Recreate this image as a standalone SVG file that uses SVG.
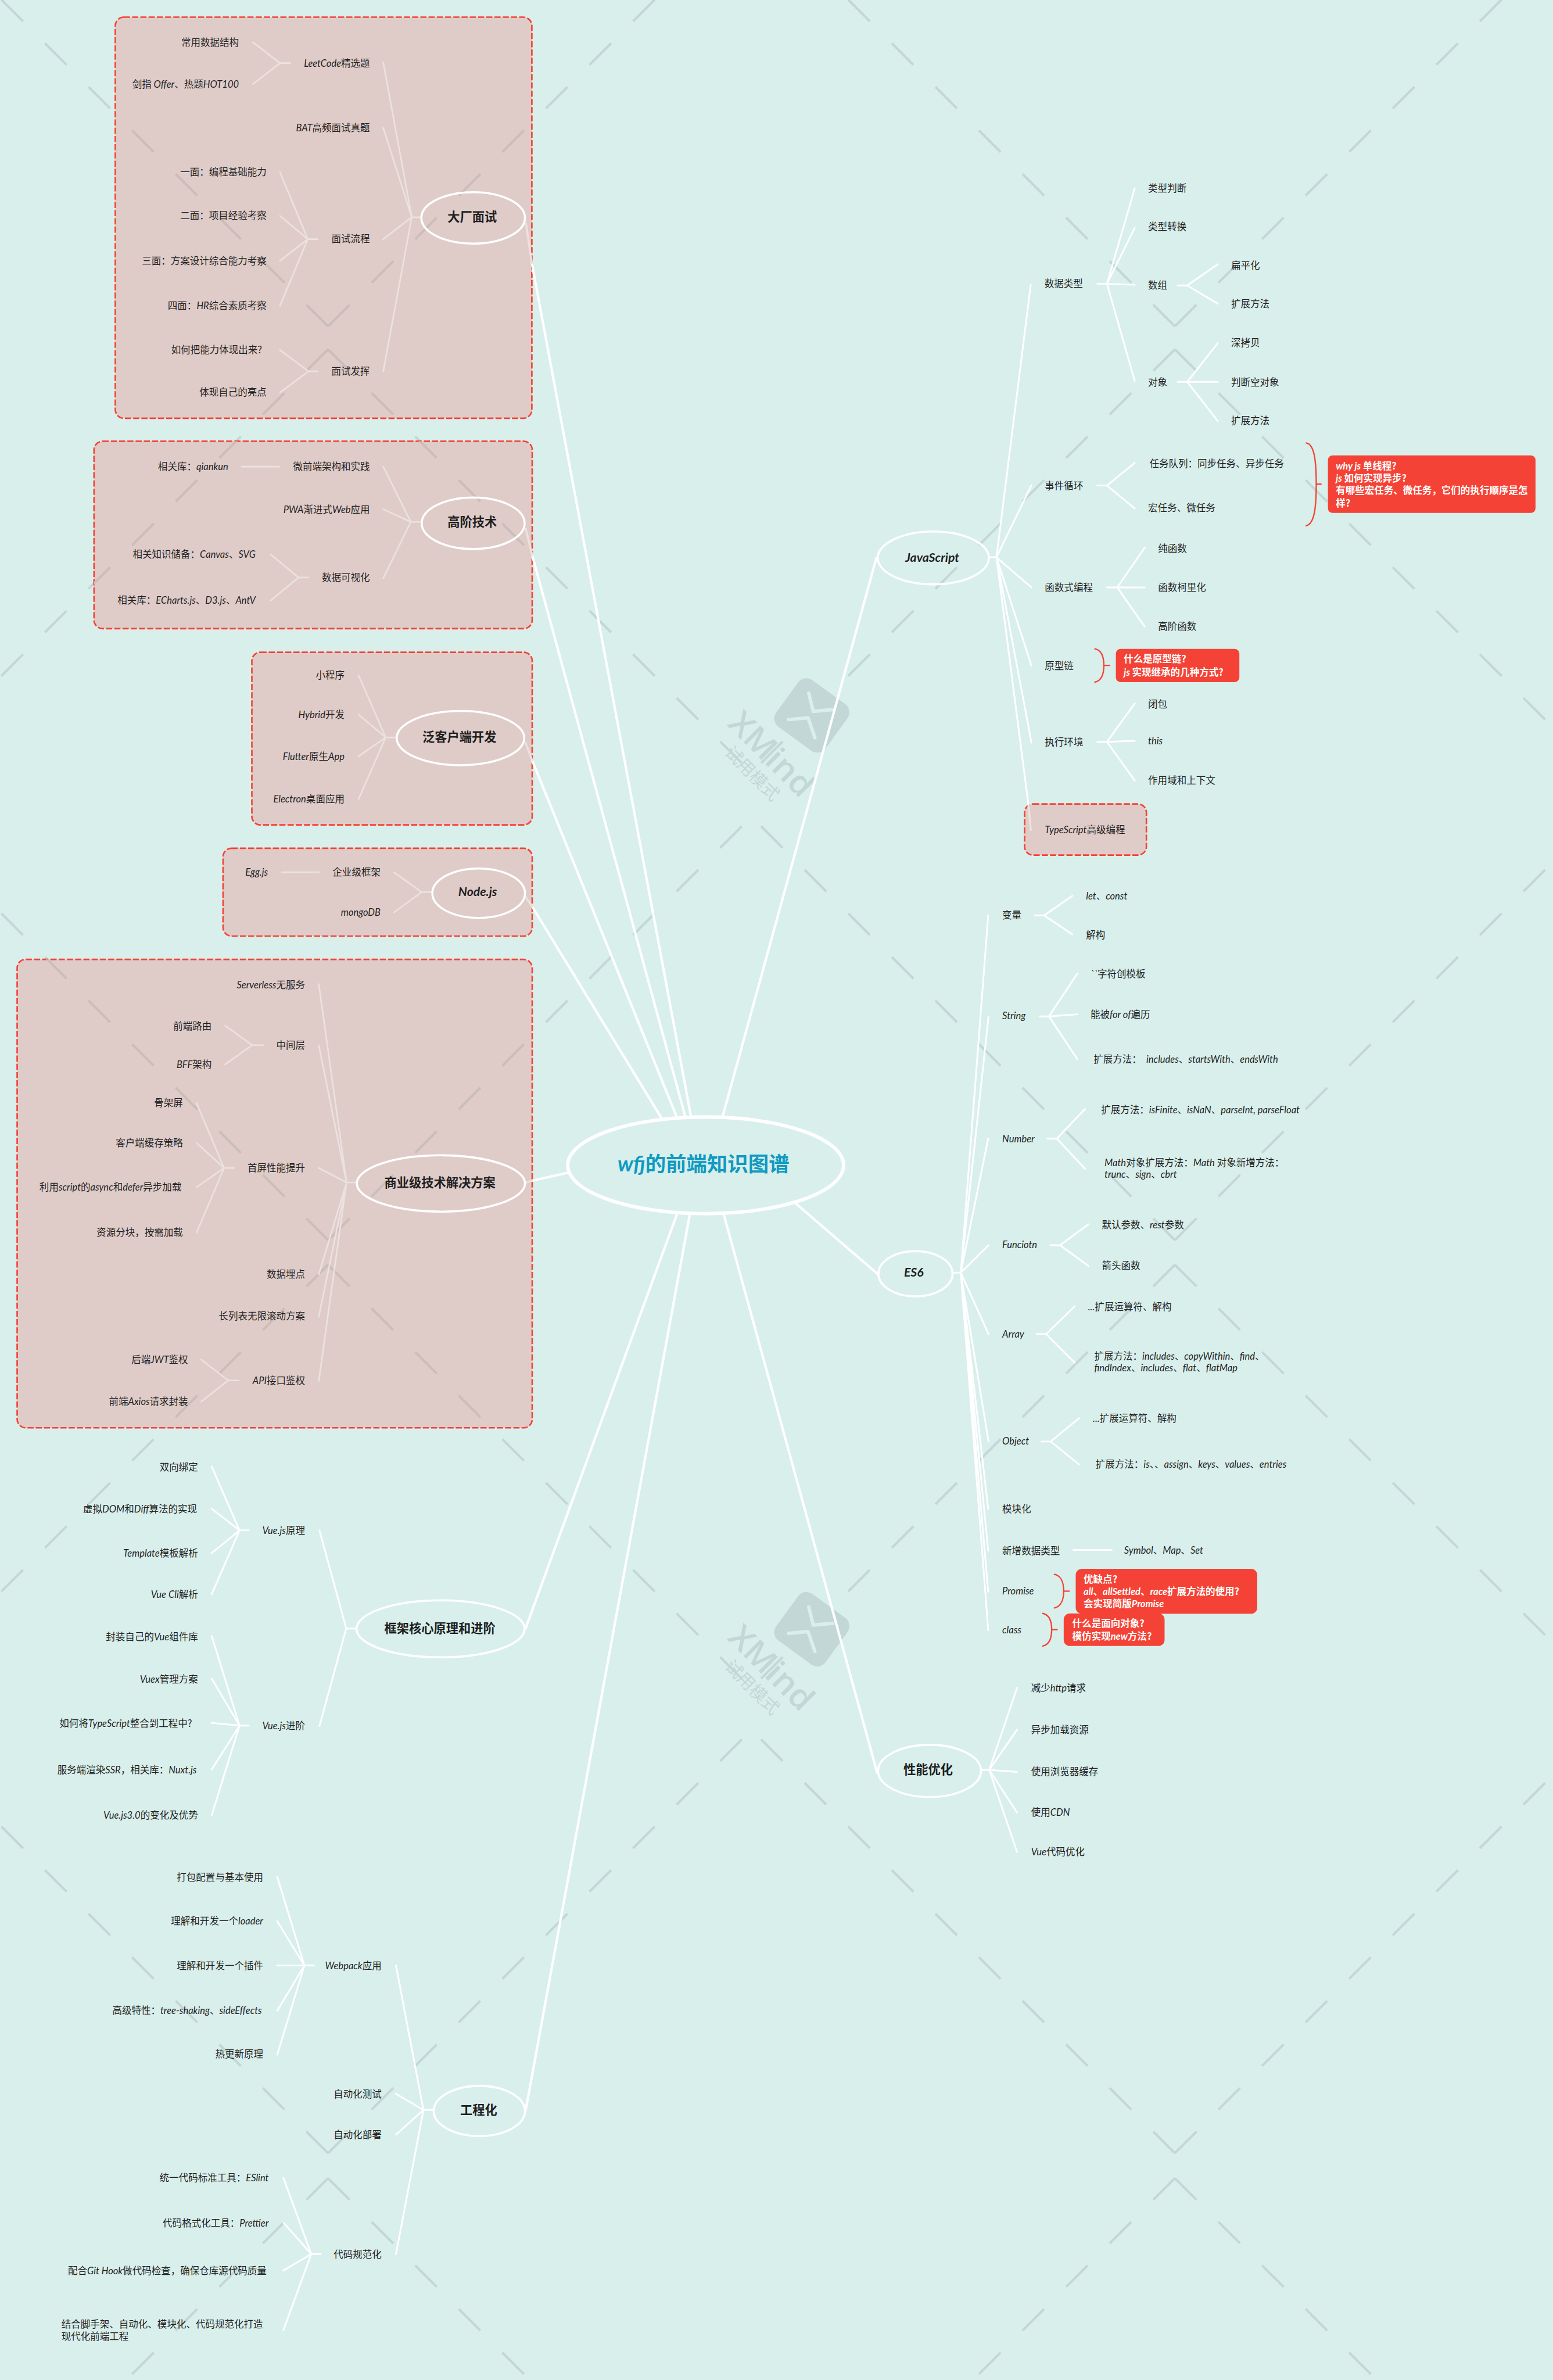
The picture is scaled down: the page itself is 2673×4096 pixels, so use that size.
<svg xmlns="http://www.w3.org/2000/svg" width="2673" height="4096" viewBox="0 0 2673 4096">
<style>
text{font-family:"Noto Sans CJK SC","Noto Sans",sans-serif;font-size:28px;fill:#1f1f1f}
.e{text-anchor:end}
.l{font-family:Lato,"Noto Sans",sans-serif;font-style:italic;font-size:28px}
.m{font-size:36px;font-weight:700;text-anchor:middle}
.m .l{font-size:36px}
.r{font-weight:700;fill:#fff}
.c{font-size:60px;font-weight:700;fill:#119ac1}
.c .l{font-size:62px}
.b{fill:#dfccc9;stroke:#f44336;stroke-width:4.5;stroke-dasharray:18 6}
.o{fill:none;stroke:#fff;stroke-width:6}
.rb{fill:#f44336}
.br{fill:none;stroke:#f44336;stroke-width:4;stroke-linecap:round}
.wm{fill:none;stroke-width:7;stroke-dasharray:89 90.6}
.wo{stroke:#c3d8d6}
.wi{stroke:#cbbdba}
.lg{fill:#c3d8d6}
.lg text{fill:#c3d8d6}
.w{stroke:#fff}
.f{stroke:#ebe2e0}
</style>
<defs>
<g id="wm-x">
<path d="M956 951l-1234-1234M956 951l1234-1234M956 1018l-1234 1234M956 1018l1234 1234"/>
<path d="M3424 951l-1234-1234M3424 951l1234-1234M3424 1018l-1234 1234M3424 1018l1234 1234"/>
<path d="M956 3614l-1234-1234M956 3614l1234-1234M956 3686l-1234 1234M956 3686l1234 1234"/>
<path d="M3424 3614l-1234-1234M3424 3614l1234-1234M3424 3686l-1234 1234M3424 3686l1234 1234"/>
<path d="M956 6275l-1234-1234M956 6275l1234-1234M956 6348l-1234 1234M956 6348l1234 1234"/>
<path d="M3424 6275l-1234-1234M3424 6275l1234-1234M3424 6348l-1234 1234M3424 6348l1234 1234"/>
</g>
<clipPath id="box-clip">
<rect x="336" y="50" width="1214" height="1169" rx="25"/>
<rect x="274" y="1286" width="1277" height="546" rx="25"/>
<rect x="734" y="1901" width="817" height="503" rx="25"/>
<rect x="650" y="2472" width="901" height="256" rx="25"/>
<rect x="50" y="2796" width="1501" height="1365" rx="25"/>
<rect x="2986" y="2343" width="355" height="149" rx="25"/>
</clipPath>
<g id="logo" class="lg">
<rect x="-89" y="-84" width="178" height="168" rx="30" transform="translate(2366 2085) rotate(36)"/>
<path d="M2357 2020L2370 2073L2427 2068M2298 2097L2355 2092L2375 2150" fill="none" stroke="#d9efec" stroke-width="10" stroke-linecap="round" stroke-linejoin="round"/>
<text transform="translate(2117 2113) rotate(45)" textLength="305" lengthAdjust="spacingAndGlyphs" style="font-family:'Open Sans',sans-serif;font-size:96px;font-weight:600">XMind</text>
<text transform="translate(2109 2196) rotate(45)" style="font-size:50px;font-weight:400">试用模式</text>
</g>
</defs>
<g transform="scale(.59059 .59054)">
<rect id="background" width="4526" height="6936" fill="#d9efec"/>
<g id="watermark">
<use href="#wm-x" class="wm wo"/>
<use href="#logo"/>
<use href="#logo" transform="translate(0 2663)"/>
</g>
<g id="boundaries">
<rect class="b" x="336" y="50" width="1214" height="1169" rx="25"/>
<rect class="b" x="274" y="1286" width="1277" height="546" rx="25"/>
<rect class="b" x="734" y="1901" width="817" height="503" rx="25"/>
<rect class="b" x="650" y="2472" width="901" height="256" rx="25"/>
<rect class="b" x="50" y="2796" width="1501" height="1365" rx="25"/>
<rect class="b" x="2986" y="2343" width="355" height="149" rx="25"/>
</g>
<use href="#wm-x" class="wm wi" clip-path="url(#box-clip)"/>
<g id="connectors" fill="none" stroke-linecap="round" stroke-linejoin="round">
<path class="w" stroke-width="7" d="M2013 3250L1550 767M1996 3250L1551 1618M1971 3252L1551 2216M1927 3257L1551 2642M1653 3418L1551 3441M1972 3541L1532 4745M2010 3541L1532 6150M2107 3250L2554 1626M2110 3542L2556 5165M2320 3508L2557 3712"/>
<path class="f" stroke-width="6" d="M1550 767L1533 652M1551 1618L1532 1540M1551 2216L1532 2165M1551 2642L1532 2614M1551 3441L1533 3446M2997 2344L3004 2419"/>
<path class="f" stroke-width="4.5" d="M1225 633H1200L1117 182M1200 633L1117 373M1200 633L1117 697M1200 633L1117 1082M846 184H816L737 123M816 184L737 245M926 697H897L816 502M897 697L816 629M897 697L816 760M897 697L816 891M926 1082H899L816 1020M899 1082L816 1144M1225 1521H1197L1117 1360M1197 1521L1117 1484M1197 1521L1117 1685M704 1360H814M898 1683H870L789 1616M870 1683L789 1750M1153 2149H1124L1045 1968M1124 2149L1045 2083M1124 2149L1045 2204M1124 2149L1045 2329M1257 2600H1229L1148 2542M1229 2600L1148 2659M822 2542H929M1037 3446H1010L929 2868M1010 3446L929 3046M1010 3446L929 3404M1010 3446L929 3714M1010 3446L929 3837M1010 3446L929 4025M767 3046H735L656 2989M735 3046L656 3102M682 3404H653L573 3215M653 3404L573 3331M653 3404L573 3460M653 3404L573 3592M696 4023H665L586 3962M665 4023L586 4085"/>
<path class="w" stroke-width="5" d="M1038 4746H1009L931 4460M1009 4746L931 5030M725 4460H698L617 4274M698 4460L617 4397M698 4460L617 4526M698 4460L617 4646M725 5029H698L617 4768M698 5029L617 4892M698 5029L617 5021M698 5029L617 5157M698 5029L617 5290M1263 6149H1234L1154 5728M1234 6149L1154 6102M1234 6149L1154 6221M1234 6149L1154 6569M916 5728H887L808 5470M887 5728L808 5599M887 5728L808 5728M887 5728L808 5860M887 5728L808 5988M935 6569H907L826 6347M907 6569L826 6477M907 6569L826 6617M907 6569L826 6791"/>
<path class="w" stroke-width="5" d="M2884 1624H2904L3004 830M2904 1624L3006 1414M2904 1624L3006 1712M2904 1624L3006 1940M2904 1624L3006 2164M2904 1624L2997 2344M3198 827H3226L3307 549M3226 827L3307 664M3226 827L3307 830M3226 827L3307 1110M3432 832H3460L3549 770M3460 832L3549 885M3432 1113H3460L3549 1000M3460 1113L3549 1113M3460 1113L3549 1227M3198 1415H3226L3307 1349M3226 1415L3307 1482M3226 1712H3256L3336 1596M3256 1712L3336 1712M3256 1712L3336 1826M3198 2162H3226L3307 2050M3226 2162L3307 2159M3226 2162L3307 2275"/>
<path class="w" stroke-width="5" d="M2779 3709H2800L2880 2668M2800 3709L2881 2962M2800 3709L2880 3318M2800 3709L2881 3629M2800 3709L2881 3888M2800 3709L2881 4201M2800 3709L2880 4398M2800 3709L2880 4519M2800 3709L2880 4639M2800 3709L2880 4751M3016 2668H3043L3125 2611M3043 2668L3125 2723M3030 2962H3057L3140 2837M3057 2962L3140 2956M3057 2962L3140 3087M3052 3318H3080L3162 3232M3080 3318L3162 3406M3062 3629H3089L3172 3568M3089 3629L3172 3689M3021 3888H3049L3132 3807M3049 3888L3132 3971M3035 4201H3062L3145 4133M3062 4201L3145 4268M3128 4517H3240M2862 5158H2883L2964 4919M2883 5158L2964 5041M2883 5158L2964 5164M2883 5158L2964 5282M2883 5158L2964 5397"/>
</g>
<g id="braces">
<path class="br" d="M3807 1291C3830 1295 3836 1340 3836 1411C3836 1482 3830 1527 3807 1532M3836 1411H3850"/>
<path class="br" d="M3191 1891C3210 1895 3217 1915 3217 1939C3217 1963 3210 1984 3191 1988M3217 1939H3234"/>
<path class="br" d="M3073 4588C3092 4592 3100 4612 3100 4637C3100 4662 3092 4682 3073 4686M3100 4637H3116"/>
<path class="br" d="M3039 4702C3058 4706 3065 4725 3065 4749C3065 4773 3058 4793 3039 4797M3065 4749H3081"/>
</g>

<g id="root"><ellipse cx="2056.5" cy="3396" rx="402" ry="141" fill="none" stroke="#fff" stroke-width="10"/><text class="c" x="1800" y="3413"><tspan class="l">wfj</tspan>的前端知识图谱</text></g>

<g id="t-dachang"><ellipse class="o" cx="1379" cy="635" rx="151" ry="75"/><text class="m" x="1376" y="646">大厂面试</text></g>
<g id="t-gaojie"><ellipse class="o" cx="1379" cy="1525" rx="150" ry="75"/><text class="m" x="1376" y="1534">高阶技术</text></g>
<g id="t-fan"><ellipse class="o" cx="1342" cy="2151" rx="186" ry="79"/><text class="m" x="1339" y="2161">泛客户端开发</text></g>
<g id="t-node"><ellipse class="o" cx="1395" cy="2603" rx="135" ry="72"/><text class="m" x="1392" y="2612"><tspan class="l">Node.js</tspan></text></g>
<g id="t-shangye"><ellipse class="o" cx="1285" cy="3449" rx="245" ry="82"/><text class="m" x="1282" y="3460">商业级技术解决方案</text></g>
<g id="t-kuangjia"><ellipse class="o" cx="1284" cy="4747" rx="245" ry="83"/><text class="m" x="1282" y="4758">框架核心原理和进阶</text></g>
<g id="t-gongcheng"><ellipse class="o" cx="1397" cy="6152" rx="133" ry="73"/><text class="m" x="1395" y="6162">工程化</text></g>
<g id="t-js"><ellipse class="o" cx="2720" cy="1626" rx="162" ry="77"/><text class="m" x="2717" y="1637"><tspan class="l">JavaScript</tspan></text></g>
<g id="t-es6"><ellipse class="o" cx="2668" cy="3712" rx="108" ry="66"/><text class="m" x="2663" y="3721"><tspan class="l">ES6</tspan></text></g>
<g id="t-perf"><ellipse class="o" cx="2709" cy="5161" rx="150" ry="76"/><text class="m" x="2705" y="5170">性能优化</text></g>

<g id="n1"><text class="e" x="1078" y="194"><tspan class="l">LeetCode</tspan>精选题</text></g>
<g id="n2"><text class="e" x="1078" y="383"><tspan class="l">BAT</tspan>高频面试真题</text></g>
<g id="n3"><text class="e" x="1078" y="707">面试流程</text></g>
<g id="n4"><text class="e" x="1078" y="1092">面试发挥</text></g>
<g id="n5"><text class="e" x="696" y="133">常用数据结构</text></g>
<g id="n6"><text class="e" x="696" y="255">剑指 <tspan class="l">Offer</tspan>、热题<tspan class="l">HOT100</tspan></text></g>
<g id="n7"><text class="e" x="777" y="512">一面：编程基础能力</text></g>
<g id="n8"><text class="e" x="777" y="639">二面：项目经验考察</text></g>
<g id="n9"><text class="e" x="777" y="770">三面：方案设计综合能力考察</text></g>
<g id="n10"><text class="e" x="777" y="901">四面：<tspan class="l">HR</tspan>综合素质考察</text></g>
<g id="n11"><text class="e" x="764" y="1030">如何把能力体现出来?</text></g>
<g id="n12"><text class="e" x="777" y="1154">体现自己的亮点</text></g>

<g id="n13"><text class="e" x="1078" y="1370">微前端架构和实践</text></g>
<g id="n14"><text class="e" x="1078" y="1496"><tspan class="l">PWA</tspan>渐进式<tspan class="l">Web</tspan>应用</text></g>
<g id="n15"><text class="e" x="1078" y="1693">数据可视化</text></g>
<g id="n16"><text class="e" x="665" y="1370">相关库：<tspan class="l">qiankun</tspan></text></g>
<g id="n17"><text class="e" x="745" y="1626">相关知识储备：<tspan class="l">Canvas</tspan>、<tspan class="l">SVG</tspan></text></g>
<g id="n18"><text class="e" x="745" y="1760">相关库：<tspan class="l">ECharts.js</tspan>、<tspan class="l">D3.js</tspan>、<tspan class="l">AntV</tspan></text></g>

<g id="n19"><text class="e" x="1004" y="1978">小程序</text></g>
<g id="n20"><text class="e" x="1004" y="2093"><tspan class="l">Hybrid</tspan>开发</text></g>
<g id="n21"><text class="e" x="1004" y="2215"><tspan class="l">Flutter</tspan>原生<tspan class="l">App</tspan></text></g>
<g id="n22"><text class="e" x="1004" y="2339"><tspan class="l">Electron</tspan>桌面应用</text></g>

<g id="n23"><text class="e" x="1109" y="2552">企业级框架</text></g>
<g id="n24"><text class="e" x="1109" y="2668"><tspan class="l">mongoDB</tspan></text></g>
<g id="n25"><text class="e" x="781" y="2552"><tspan class="l">Egg.js</tspan></text></g>

<g id="n26"><text class="e" x="889" y="2880"><tspan class="l">Serverless</tspan>无服务</text></g>
<g id="n27"><text class="e" x="889" y="3056">中间层</text></g>
<g id="n28"><text class="e" x="889" y="3414">首屏性能提升</text></g>
<g id="n29"><text class="e" x="889" y="3724">数据埋点</text></g>
<g id="n30"><text class="e" x="889" y="3846">长列表无限滚动方案</text></g>
<g id="n31"><text class="e" x="889" y="4034"><tspan class="l">API</tspan>接口鉴权</text></g>
<g id="n32"><text class="e" x="617" y="3000">前端路由</text></g>
<g id="n33"><text class="e" x="617" y="3112"><tspan class="l">BFF</tspan>架构</text></g>
<g id="n34"><text class="e" x="533" y="3225">骨架屏</text></g>
<g id="n35"><text class="e" x="533" y="3341">客户端缓存策略</text></g>
<g id="n36"><text class="e" x="529" y="3470">利用<tspan class="l">script</tspan>的<tspan class="l">async</tspan>和<tspan class="l">defer</tspan>异步加载</text></g>
<g id="n37"><text class="e" x="533" y="3602">资源分块，按需加载</text></g>
<g id="n38"><text class="e" x="548" y="3972">后端<tspan class="l">JWT</tspan>鉴权</text></g>
<g id="n39"><text class="e" x="548" y="4095">前端<tspan class="l">Axios</tspan>请求封装</text></g>

<g id="n40"><text class="e" x="889" y="4470"><tspan class="l">Vue.js</tspan>原理</text></g>
<g id="n41"><text class="e" x="889" y="5040"><tspan class="l">Vue.js</tspan>进阶</text></g>
<g id="n42"><text class="e" x="577" y="4286">双向绑定</text></g>
<g id="n43"><text class="e" x="574" y="4408">虚拟<tspan class="l">DOM</tspan>和<tspan class="l">Diff</tspan>算法的实现</text></g>
<g id="n44"><text class="e" x="577" y="4536"><tspan class="l">Template</tspan>模板解析</text></g>
<g id="n45"><text class="e" x="577" y="4656"><tspan class="l">Vue Cli</tspan>解析</text></g>
<g id="n46"><text class="e" x="577" y="4780">封装自己的<tspan class="l">Vue</tspan>组件库</text></g>
<g id="n47"><text class="e" x="577" y="4904"><tspan class="l">Vuex</tspan>管理方案</text></g>
<g id="n48"><text class="e" x="560" y="5032">如何将<tspan class="l">TypeScript</tspan>整合到工程中?</text></g>
<g id="n49"><text class="e" x="573" y="5168">服务端渲染<tspan class="l">SSR</tspan>，相关库：<tspan class="l">Nuxt.js</tspan></text></g>
<g id="n50"><text class="e" x="577" y="5300"><tspan class="l">Vue.js3.0</tspan>的变化及优势</text></g>

<g id="n51"><text class="e" x="1112" y="5739"><tspan class="l">Webpack</tspan>应用</text></g>
<g id="n52"><text class="e" x="1112" y="6113">自动化测试</text></g>
<g id="n53"><text class="e" x="1112" y="6232">自动化部署</text></g>
<g id="n54"><text class="e" x="1112" y="6580">代码规范化</text></g>
<g id="n55"><text class="e" x="767" y="5481">打包配置与基本使用</text></g>
<g id="n56"><text class="e" x="767" y="5609">理解和开发一个<tspan class="l">loader</tspan></text></g>
<g id="n57"><text class="e" x="767" y="5738">理解和开发一个插件</text></g>
<g id="n58"><text class="e" x="763" y="5870">高级特性：<tspan class="l">tree-shaking</tspan>、<tspan class="l">sideEffects</tspan></text></g>
<g id="n59"><text class="e" x="767" y="5996">热更新原理</text></g>
<g id="n60"><text class="e" x="783" y="6357">统一代码标准工具：<tspan class="l">ESlint</tspan></text></g>
<g id="n61"><text class="e" x="783" y="6489">代码格式化工具：<tspan class="l">Prettier</tspan></text></g>
<g id="n62"><text class="e" x="777" y="6627">配合<tspan class="l">Git Hook</tspan>做代码检查，确保仓库源代码质量</text></g>
<g id="n63"><text x="179" y="6784">结合脚手架、自动化、模块化、代码规范化打造</text><text x="179" y="6820">现代化前端工程</text></g>

<g id="n64"><text x="3044" y="837">数据类型</text></g>
<g id="n65"><text x="3045" y="1426">事件循环</text></g>
<g id="n66"><text x="3045" y="1722">函数式编程</text></g>
<g id="n67"><text x="3045" y="1950">原型链</text></g>
<g id="n68"><text x="3045" y="2173">执行环境</text></g>
<g id="n69"><text x="3045" y="2429"><tspan class="l">TypeScript</tspan>高级编程</text></g>
<g id="n70"><text x="3346" y="559">类型判断</text></g>
<g id="n71"><text x="3346" y="670">类型转换</text></g>
<g id="n72"><text x="3346" y="842">数组</text></g>
<g id="n73"><text x="3346" y="1125">对象</text></g>
<g id="n74"><text x="3588" y="784">扁平化</text></g>
<g id="n75"><text x="3588" y="895">扩展方法</text></g>
<g id="n76"><text x="3588" y="1010">深拷贝</text></g>
<g id="n77"><text x="3588" y="1124">判断空对象</text></g>
<g id="n78"><text x="3588" y="1237">扩展方法</text></g>
<g id="n79"><text x="3350" y="1362">任务队列：同步任务、异步任务</text></g>
<g id="n80"><text x="3346" y="1490">宏任务、微任务</text></g>
<g id="n81"><rect class="rb" x="3870" y="1327" width="605" height="168" rx="14"/><text class="r" x="3893" y="1368"><tspan class="l">why js </tspan>单线程?</text><text class="r" x="3893" y="1404"><tspan class="l">js </tspan>如何实现异步?</text><text class="r" x="3893" y="1440">有哪些宏任务、微任务，它们的执行顺序是怎</text><text class="r" x="3893" y="1476">样?</text></g>
<g id="n82"><text x="3375" y="1608">纯函数</text></g>
<g id="n83"><text x="3375" y="1722">函数柯里化</text></g>
<g id="n84"><text x="3375" y="1836">高阶函数</text></g>
<g id="n85"><rect class="rb" x="3252" y="1891" width="360" height="97" rx="14"/><text class="r" x="3275" y="1931">什么是原型链?</text><text class="r" x="3275" y="1969"><tspan class="l">js </tspan>实现继承的几种方式?</text></g>
<g id="n86"><text x="3346" y="2062">闭包</text></g>
<g id="n87"><text x="3346" y="2170"><tspan class="l">this</tspan></text></g>
<g id="n88"><text x="3346" y="2284">作用域和上下文</text></g>

<g id="n89"><text x="2921" y="2678">变量</text></g>
<g id="n90"><text x="2921" y="2971"><tspan class="l">String</tspan></text></g>
<g id="n91"><text x="2921" y="3329"><tspan class="l">Number</tspan></text></g>
<g id="n92"><text x="2921" y="3638"><tspan class="l">Funciotn</tspan></text></g>
<g id="n93"><text x="2921" y="3898"><tspan class="l">Array</tspan></text></g>
<g id="n94"><text x="2921" y="4210"><tspan class="l">Object</tspan></text></g>
<g id="n95"><text x="2921" y="4408">模块化</text></g>
<g id="n96"><text x="2921" y="4529">新增数据类型</text></g>
<g id="n97"><text x="2921" y="4647"><tspan class="l">Promise</tspan></text></g>
<g id="n98"><text x="2921" y="4760"><tspan class="l">class</tspan></text></g>
<g id="n99"><text x="3165" y="2621"><tspan class="l">let</tspan>、<tspan class="l">const</tspan></text></g>
<g id="n100"><text x="3165" y="2734">解构</text></g>
<g id="n101"><text x="3178" y="2848"><tspan class="l">``</tspan>字符创模板</text></g>
<g id="n102"><text x="3178" y="2966">能被<tspan class="l">for of</tspan>遍历</text></g>
<g id="n103"><text x="3187" y="3097">扩展方法：<tspan class="l" dx="14">includes</tspan>、<tspan class="l">startsWith</tspan>、<tspan class="l">endsWith</tspan></text></g>
<g id="n104"><text x="3209" y="3244">扩展方法：<tspan class="l">isFinite</tspan>、<tspan class="l">isNaN</tspan>、<tspan class="l">parseInt, parseFloat</tspan></text></g>
<g id="n105"><text x="3219" y="3398"><tspan class="l">Math</tspan>对象扩展方法：<tspan class="l">Math </tspan>对象新增方法：</text><text x="3219" y="3433"><tspan class="l">trunc</tspan>、<tspan class="l">sign</tspan>、<tspan class="l">cbrt</tspan></text></g>
<g id="n106"><text x="3211" y="3580">默认参数、<tspan class="l">rest</tspan>参数</text></g>
<g id="n107"><text x="3211" y="3698">箭头函数</text></g>
<g id="n108"><text x="3171" y="3818"><tspan class="l">...</tspan>扩展运算符、解构</text></g>
<g id="n109"><text x="3189" y="3962">扩展方法：<tspan class="l">includes</tspan>、<tspan class="l">copyWithin</tspan>、<tspan class="l">find</tspan>、</text><text x="3189" y="3997"><tspan class="l">findIndex</tspan>、<tspan class="l">includes</tspan>、<tspan class="l">flat</tspan>、<tspan class="l">flatMap</tspan></text></g>
<g id="n110"><text x="3185" y="4144"><tspan class="l">...</tspan>扩展运算符、解构</text></g>
<g id="n111"><text x="3193" y="4278">扩展方法：<tspan class="l">is</tspan>、、<tspan class="l">assign</tspan>、<tspan class="l">keys</tspan>、<tspan class="l">values</tspan>、<tspan class="l">entries</tspan></text></g>
<g id="n112"><text x="3276" y="4528"><tspan class="l">Symbol</tspan>、<tspan class="l">Map</tspan>、<tspan class="l">Set</tspan></text></g>
<g id="n113"><rect class="rb" x="3135" y="4572" width="529" height="131" rx="18"/><text class="r" x="3158" y="4612">优缺点?</text><text class="r" x="3158" y="4648"><tspan class="l">all</tspan>、<tspan class="l">allSettled</tspan>、<tspan class="l">race</tspan>扩展方法的使用?</text><text class="r" x="3158" y="4684">会实现简版<tspan class="l">Promise</tspan></text></g>
<g id="n114"><rect class="rb" x="3100" y="4702" width="294" height="95" rx="18"/><text class="r" x="3125" y="4742">什么是面向对象?</text><text class="r" x="3125" y="4778">模仿实现<tspan class="l">new</tspan>方法?</text></g>

<g id="n115"><text x="3005" y="4930">减少<tspan class="l">http</tspan>请求</text></g>
<g id="n116"><text x="3005" y="5051">异步加载资源</text></g>
<g id="n117"><text x="3005" y="5174">使用浏览器缓存</text></g>
<g id="n118"><text x="3005" y="5291">使用<tspan class="l">CDN</tspan></text></g>
<g id="n119"><text x="3005" y="5407"><tspan class="l">Vue</tspan>代码优化</text></g>
</g>
</svg>
